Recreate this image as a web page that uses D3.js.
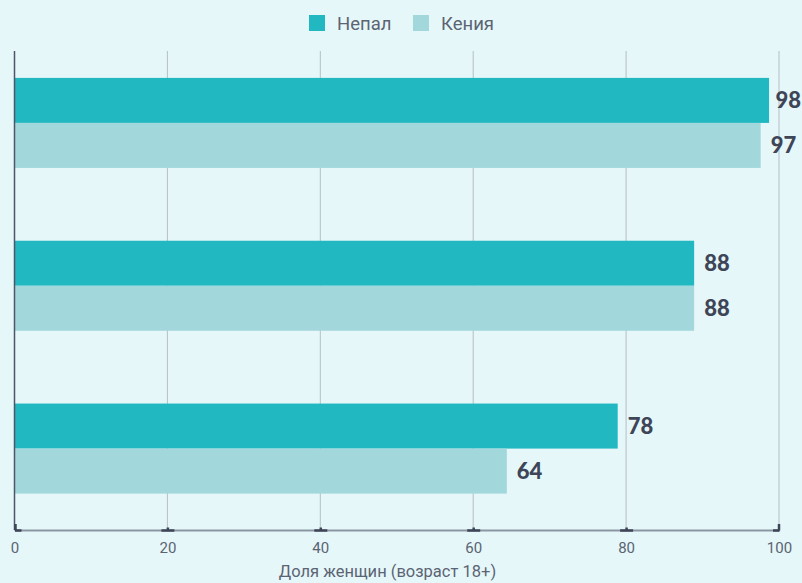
<!DOCTYPE html>
<html>
<head>
<meta charset="utf-8">
<script src="https://cdn.jsdelivr.net/npm/d3@7"></script>
<style>
  html, body { margin: 0; padding: 0; background: #e6f7fa; }
  svg { display: block; }
</style>
</head>
<body>
<svg id="chart" width="802" height="583"></svg>
<script>
const categories = ["Группа 1", "Группа 2", "Группа 3"];
const seriesNames = ["Непал", "Кения"];
const nepal = [98.7, 88.9, 78.9];
const kenya = [97.6, 88.9, 64.4];
const xTicks = [0, 20, 40, 60, 80, 100];
const axisTitle = "Доля женщин (возраст 18+)";

const colors = ["#21b8c1", "#a2d8dc"];
const W = 802, H = 583;
const svg = d3.select("#chart");
svg.append("rect").attr("width", W).attr("height", H).attr("fill", "#e6f7fa");

const x = d3.scaleLinear().domain([0, 100]).range([14.5, 779]);
const y0 = d3.scaleBand().domain(categories).range([41.5, 530]).paddingInner(0.447).paddingOuter(0.2235);
const y1 = d3.scaleBand().domain(seriesNames).range([0, y0.bandwidth()]);
const plotTop = 51, plotBottom = 530;

// grid
svg.append("g").selectAll("line").data(xTicks.filter(t => t > 0)).join("line")
  .attr("x1", d => x(d)).attr("x2", d => x(d))
  .attr("y1", plotTop).attr("y2", plotBottom)
  .attr("stroke", "#b4bfc6").attr("stroke-width", 1);

// bars
const data = categories.map((c, i) => ({ cat: c, vals: [nepal[i], kenya[i]] }));
const groups = svg.append("g").selectAll("g").data(data).join("g")
  .attr("transform", d => `translate(0,${y0(d.cat)})`);
groups.selectAll("rect").data(d => d.vals.map((v, j) => ({ s: seriesNames[j], v, j }))).join("rect")
  .attr("x", x(0)).attr("y", d => y1(d.s))
  .attr("width", d => x(d.v) - x(0)).attr("height", y1.bandwidth())
  .attr("fill", d => colors[d.j]);
groups.selectAll("text").data(d => d.vals.map((v, j) => ({ s: seriesNames[j], v, j }))).join("text")
  .attr("x", d => x(d.v) + 10).attr("y", d => y1(d.s) + y1.bandwidth() / 2)
  .attr("dy", "0.36em")
  .attr("font-family", "Lato, sans-serif").attr("font-weight", 900).attr("font-size", 22)
  .attr("fill", "#3e4557")
  .text(d => Math.floor(d.v))
  .each(function () {
    const w = this.getComputedTextLength();
    const cx = +this.getAttribute("x");
    if (cx + w > W - 1) this.setAttribute("x", W - 1 - w);
  });

// y axis line
svg.append("line").attr("x1", 14.5).attr("x2", 14.5).attr("y1", plotTop).attr("y2", plotBottom)
  .attr("stroke", "#4d5566").attr("stroke-width", 1.5);

// x axis
const xAxis = d3.axisBottom(x).tickValues(xTicks).tickSize(0).tickPadding(12);
const ax = svg.append("g").attr("transform", `translate(0,${plotBottom})`).call(xAxis);
ax.select(".domain").attr("stroke", "#8a96a2").attr("stroke-width", 2);
ax.selectAll(".tick text").attr("font-family", "Roboto, sans-serif").attr("font-size", 15).attr("fill", "#5b6472");
ax.selectAll(".tick").append("line")
  .attr("x1", d => Math.max(x(d) - 6.5, x(0)) - x(d)).attr("x2", d => Math.min(x(d) + 6.5, x(100)) - x(d))
  .attr("y1", 0.5).attr("y2", 0.5).attr("stroke", "#3e4557").attr("stroke-width", 2.5);
ax.selectAll(".tick").append("line")
  .attr("x1", d => d === 0 ? 0.5 : d === 100 ? -0.5 : 0).attr("x2", d => d === 0 ? 0.5 : d === 100 ? -0.5 : 0)
  .attr("y1", d => (d === 0 || d === 100) ? -6 : -2.5).attr("y2", 0.5)
  .attr("stroke", "#3e4557").attr("stroke-width", 2.5);

svg.append("text").attr("x", 387.5).attr("y", 577).attr("text-anchor", "middle")
  .attr("font-family", "Roboto, sans-serif").attr("font-size", 16.5).attr("fill", "#5b6472")
  .text(axisTitle);

// legend
const legend = svg.append("g");
const legX = [309, 413];
seriesNames.forEach((n, i) => {
  legend.append("rect").attr("x", legX[i]).attr("y", 15).attr("width", 16).attr("height", 16).attr("fill", colors[i]);
  legend.append("text").attr("x", legX[i] + 28).attr("y", 23).attr("dy", "0.36em")
    .attr("font-family", "Roboto, sans-serif").attr("font-size", 18.5).attr("fill", "#5b6472").text(n);
});
</script>
</body>
</html>
